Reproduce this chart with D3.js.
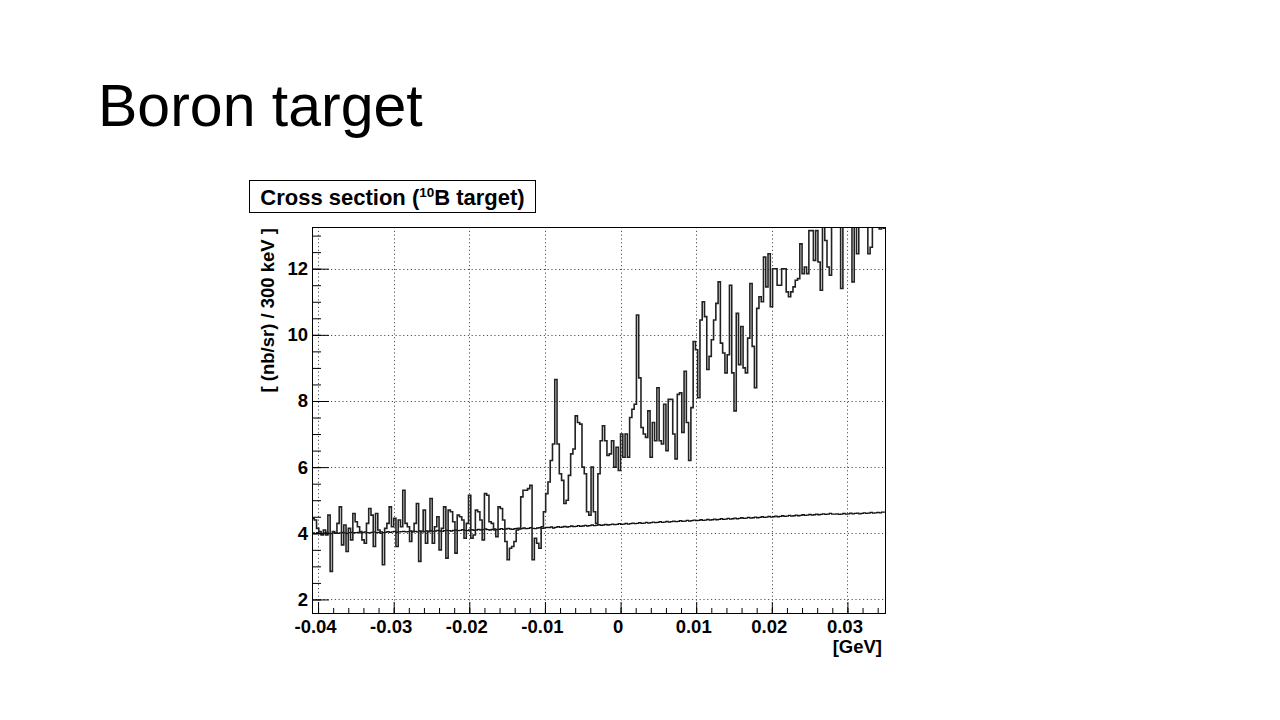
<!DOCTYPE html>
<html><head><meta charset="utf-8">
<script src="https://cdn.jsdelivr.net/npm/d3@7"></script>
<style>
html,body{margin:0;padding:0;background:#fff;}
svg{display:block;}
</style></head>
<body>
<svg id="chart" width="1280" height="720"></svg>
<script>
// ---------------- data ----------------
const pageTitle = "Boron target";
const histTitleParts = ["Cross section (", "10", "B target)"];
const xAxisTitle = "[GeV]";
const yAxisTitle = "[ (nb/sr) / 300 keV ]";
const xRange = [-0.0408, 0.0351];
const yRange = [1.56, 13.26];
const binStart = -0.0408;
const binWidth = 0.0003;
const xTickValues = [-0.04, -0.03, -0.02, -0.01, 0, 0.01, 0.02, 0.03];
const xTickLabels = ["-0.04", "-0.03", "-0.02", "-0.01", "0", "0.01", "0.02", "0.03"];
const yTickValues = [2, 4, 6, 8, 10, 12];
const yTickLabels = ["2", "4", "6", "8", "10", "12"];

const crossSection = [
  4.45,4.40,4.15,4.05,3.95,4.10,3.95,4.55,2.85,4.05,
  4.00,4.30,4.80,3.65,4.25,3.45,4.15,3.80,4.60,4.35,
  4.20,4.05,3.80,3.70,4.30,4.75,4.55,3.60,4.60,4.10,
  4.00,3.05,4.15,4.30,4.80,4.20,4.45,3.60,4.40,4.20,
  5.30,4.30,4.20,3.75,4.05,4.30,4.90,3.15,4.05,4.70,
  3.70,4.05,5.05,3.70,4.20,4.50,3.50,4.15,4.80,3.25,
  4.70,4.65,4.35,3.40,4.55,4.50,4.40,3.85,4.30,5.15,
  3.85,3.95,4.70,4.65,4.40,3.80,5.20,5.15,4.35,4.30,
  4.10,3.90,4.80,4.75,4.40,3.75,3.20,3.55,3.60,3.75,
  4.10,4.15,5.10,5.30,5.30,5.35,5.45,3.20,3.85,3.70,
  3.55,4.20,4.65,5.20,5.55,6.20,6.70,8.65,6.70,5.80,
  5.60,4.90,5.00,5.75,6.40,6.55,7.55,7.35,7.30,6.00,
  5.80,4.65,4.55,6.00,4.65,4.30,5.80,6.80,7.25,6.80,
  6.35,6.40,6.80,6.00,6.60,5.90,7.00,6.30,7.00,6.30,
  7.50,7.75,7.90,10.60,8.70,7.20,7.00,6.90,7.70,6.30,
  7.35,6.80,8.40,6.80,6.70,7.90,6.50,8.05,8.05,7.00,
  6.25,8.20,8.25,7.05,8.90,7.35,6.20,7.80,9.80,9.55,
  8.10,10.45,11.00,10.55,8.95,9.35,9.85,10.45,10.95,11.60,
  9.75,9.45,8.85,9.40,11.50,8.85,7.70,10.65,9.10,10.25,
  9.00,8.85,9.90,11.55,9.65,8.40,10.80,11.15,11.00,12.35,
  11.45,12.45,10.85,12.00,12.00,11.50,11.50,12.00,12.00,11.30,
  11.15,11.30,11.45,11.65,11.70,12.75,11.85,12.05,11.85,13.15,
  13.15,12.25,13.15,12.20,11.35,13.60,12.85,12.05,11.80,13.50,
  13.40,13.60,13.50,11.40,13.50,13.70,13.40,13.60,11.60,13.50,
  12.45,13.60,13.40,13.50,13.70,12.45,12.65,13.50,13.60,13.40,
  13.20,13.24,13.22
];

const background = [
  4.01,3.99,4.02,4.00,3.98,4.01,4.03,4.00,3.99,4.01,
  4.02,4.00,4.01,4.03,4.01,3.99,4.02,4.03,4.01,4.02,
  4.03,4.01,4.02,4.04,4.02,4.01,4.03,4.04,4.02,4.03,
  4.04,4.02,4.03,4.05,4.03,4.04,4.06,4.03,4.04,4.05,
  4.06,4.04,4.05,4.07,4.05,4.06,4.04,4.07,4.06,4.05,
  4.07,4.06,4.08,4.06,4.07,4.09,4.07,4.06,4.08,4.09,
  4.08,4.07,4.09,4.10,4.08,4.09,4.11,4.09,4.08,4.10,
  4.11,4.09,4.10,4.12,4.10,4.11,4.13,4.11,4.10,4.12,
  4.13,4.11,4.12,4.14,4.12,4.13,4.15,4.13,4.12,4.14,
  4.15,4.13,4.14,4.16,4.14,4.15,4.17,4.15,4.14,4.16,
  4.17,4.15,4.16,4.18,4.17,4.19,4.16,4.18,4.20,4.18,
  4.19,4.21,4.19,4.20,4.22,4.20,4.21,4.23,4.21,4.22,
  4.24,4.22,4.23,4.25,4.23,4.24,4.26,4.24,4.25,4.27,
  4.25,4.26,4.28,4.26,4.27,4.29,4.27,4.28,4.30,4.28,
  4.29,4.31,4.29,4.30,4.32,4.30,4.31,4.33,4.31,4.32,
  4.34,4.32,4.33,4.35,4.33,4.34,4.36,4.34,4.35,4.37,
  4.35,4.36,4.38,4.36,4.37,4.39,4.37,4.38,4.40,4.38,
  4.39,4.41,4.39,4.40,4.42,4.40,4.41,4.43,4.41,4.42,
  4.44,4.42,4.43,4.45,4.43,4.44,4.46,4.44,4.45,4.47,
  4.45,4.46,4.48,4.46,4.47,4.49,4.47,4.48,4.50,4.48,
  4.49,4.51,4.49,4.50,4.52,4.50,4.51,4.53,4.51,4.52,
  4.54,4.52,4.53,4.55,4.53,4.54,4.56,4.54,4.55,4.57,
  4.55,4.56,4.58,4.56,4.57,4.59,4.57,4.58,4.60,4.58,
  4.58,4.59,4.57,4.58,4.60,4.58,4.59,4.61,4.59,4.60,
  4.61,4.59,4.60,4.62,4.60,4.61,4.63,4.61,4.62,4.63,
  4.62,4.64,4.64
];

// ---------------- layout ----------------
const FONT = "'Liberation Sans', Arial, Helvetica, sans-serif";
const plot = {left: 312, right: 886, top: 227, bottom: 614};

const svg = d3.select("#chart");
svg.append("rect").attr("width", 1280).attr("height", 720).attr("fill", "#fff");

svg.append("text")
  .attr("x", 98).attr("y", 126)
  .attr("font-family", FONT).attr("font-size", 59)
  .attr("fill", "#000")
  .text(pageTitle);

const x = d3.scaleLinear().domain(xRange).range([plot.left, plot.right]);
const y = d3.scaleLinear().domain(yRange).range([plot.bottom, plot.top]);

// grid
const grid = svg.append("g").attr("stroke", "#555").attr("stroke-width", 1)
  .attr("stroke-dasharray", "1.2,2.6").attr("fill", "none");
grid.selectAll("line.v").data(xTickValues).join("line")
  .attr("x1", d => Math.round(x(d)) + 0.5).attr("x2", d => Math.round(x(d)) + 0.5)
  .attr("y1", plot.top).attr("y2", plot.bottom);
grid.selectAll("line.h").data(yTickValues).join("line")
  .attr("y1", d => Math.round(y(d)) + 0.5).attr("y2", d => Math.round(y(d)) + 0.5)
  .attr("x1", plot.left).attr("x2", plot.right);

// clip
svg.append("clipPath").attr("id", "plotclip").append("rect")
  .attr("x", plot.left).attr("y", plot.top)
  .attr("width", plot.right - plot.left).attr("height", plot.bottom - plot.top);

function stepPoints(vals) {
  const pts = vals.map((v, i) => [binStart + i * binWidth, v]);
  pts.push([binStart + vals.length * binWidth, vals[vals.length - 1]]);
  return pts;
}
const line = d3.line().x(d => x(d[0])).y(d => y(d[1])).curve(d3.curveStepAfter);

const g = svg.append("g").attr("clip-path", "url(#plotclip)");
g.append("path").datum(stepPoints(background))
  .attr("d", line).attr("fill", "none").attr("stroke", "#111").attr("stroke-width", 1.3);
g.append("path").datum(stepPoints(crossSection))
  .attr("d", line).attr("fill", "none").attr("stroke", "#222").attr("stroke-width", 1.6)
  .attr("stroke-linejoin", "miter");

// axes
const xMinor = x.ticks(40);
const yMinor = y.ticks(24);

const xAxisMinor = d3.axisBottom(x).tickValues(xMinor).tickSize(-6).tickFormat("");
const xAxis = d3.axisBottom(x).tickValues(xTickValues).tickSize(-12).tickPadding(6)
  .tickFormat((d, i) => xTickLabels[i]);
const yAxisMinor = d3.axisLeft(y).tickValues(yMinor).tickSize(-9).tickFormat("");
const yAxis = d3.axisLeft(y).tickValues(yTickValues).tickSize(-17).tickPadding(4)
  .tickFormat((d, i) => yTickLabels[i]);

function styleAxis(sel) {
  sel.select(".domain").remove();
  sel.selectAll("line").attr("stroke", "#000").attr("stroke-width", 1);
  sel.selectAll("text").attr("font-family", FONT).attr("font-size", 18.5)
    .attr("font-weight", "bold").attr("fill", "#000");
}
svg.append("g").attr("transform", `translate(0,${plot.bottom})`).call(xAxisMinor).call(styleAxis);
svg.append("g").attr("transform", `translate(0,${plot.bottom})`).call(xAxis).call(styleAxis)
  .selectAll("text").attr("dx", -3);
svg.append("g").attr("transform", `translate(0,0)`).attr("transform", `translate(${plot.left},0)`).call(yAxisMinor).call(styleAxis);
svg.append("g").attr("transform", `translate(${plot.left},0)`).call(yAxis).call(styleAxis);

// frame
svg.append("rect")
  .attr("x", plot.left + 0.5).attr("y", plot.top + 0.5)
  .attr("width", plot.right - plot.left - 1).attr("height", plot.bottom - plot.top - 1)
  .attr("fill", "none").attr("stroke", "#000").attr("stroke-width", 1);

// axis titles
svg.append("text")
  .attr("x", 882).attr("y", 653)
  .attr("text-anchor", "end")
  .attr("font-family", FONT).attr("font-size", 18.5).attr("font-weight", "bold")
  .text(xAxisTitle);

svg.append("text")
  .attr("transform", `translate(274,${plot.top + 1}) rotate(-90)`)
  .attr("text-anchor", "end")
  .attr("font-family", FONT).attr("font-size", 18.5).attr("font-weight", "bold")
  .text(yAxisTitle);

// histogram title box
svg.append("rect")
  .attr("x", 249.5).attr("y", 180.5).attr("width", 286).attr("height", 32)
  .attr("fill", "#fff").attr("stroke", "#000").attr("stroke-width", 1);
const tt = svg.append("text")
  .attr("x", 392.5).attr("y", 204.5)
  .attr("text-anchor", "middle")
  .attr("font-family", FONT).attr("font-size", 22).attr("font-weight", "bold");
tt.append("tspan").text(histTitleParts[0]);
tt.append("tspan").attr("font-size", 13.5).attr("dy", -8).text(histTitleParts[1]);
tt.append("tspan").attr("dy", 8).text(histTitleParts[2]);
</script>
</body></html>
